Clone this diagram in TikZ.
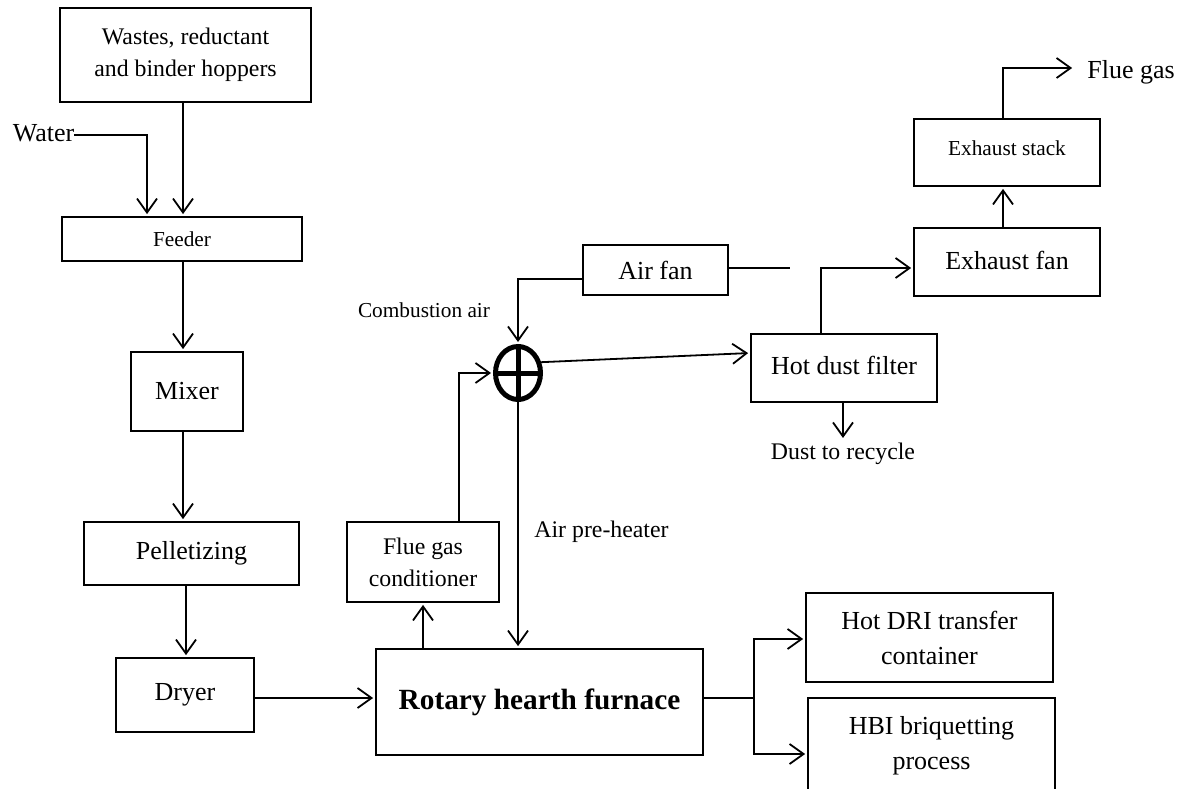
\documentclass[tikz,border=0pt]{standalone}
\usepackage{fontspec}
\setmainfont{Liberation Serif}
\usetikzlibrary{arrows.meta,shapes.geometric}
\newcommand\fbig{\fontsize{26}{35}\selectfont}
\newcommand\fmid{\fontsize{23.8}{32}\selectfont}
\newcommand\fsmall{\fontsize{21.3}{28}\selectfont}
\newcommand\fbold{\fontsize{29.3}{36}\selectfont\bfseries}
\begin{document}
\begin{tikzpicture}[x=1pt,y=-1pt,
  box/.style={draw,line width=1.8pt,inner sep=0pt,align=center,fill=white},
  lbl/.style={inner sep=0pt,align=center},
  ln/.style={line width=1.8pt},
  arr/.style={line width=1.8pt,-{Straight Barb[length=14pt,width=20pt]},shorten >=2pt}]
\useasboundingbox (0,0) rectangle (1184,789);
\clip (0,0) rectangle (1184,789);
% boxes
\node[box,minimum width=251pt,minimum height=94pt,font=\fmid] (hop) at (185.5,55) {Wastes, reductant\\and binder hoppers};
\node[box,minimum width=240pt,minimum height=44pt,font=\fsmall] (feed) at (182,239) {Feeder};
\node[box,minimum width=112pt,minimum height=79pt,font=\fbig] (mixer) at (187,391.5) {Mixer};
\node[box,minimum width=215pt,minimum height=63pt,font=\fbig] (pel) at (191.5,553.5) {Pelletizing};
\node[box,minimum width=138pt,minimum height=74pt,font=\fbig] (dryer) at (185,695) {Dryer};
\node[box,minimum width=327pt,minimum height=106pt,font=\fbold] (furn) at (539.5,702) {\raisebox{5pt}{Rotary hearth furnace}};
\node[box,minimum width=152pt,minimum height=80pt,font=\fmid] (fgc) at (423,562) {Flue gas\\conditioner};
\node[box,minimum width=145pt,minimum height=50pt,font=\fbig] (fan) at (655.5,270) {Air fan};
\node[box,minimum width=186pt,minimum height=68pt,font=\fbig] (hdf) at (844,368) {\raisebox{5pt}{Hot dust filter}};
\node[box,minimum width=186pt,minimum height=68pt,font=\fbig] (exfan) at (1007,262) {\raisebox{4pt}{Exhaust fan}};
\node[box,minimum width=186pt,minimum height=67pt,font=\fsmall] (stack) at (1007,152.5) {\raisebox{9pt}{Exhaust stack}};
\node[box,minimum width=247pt,minimum height=89pt,font=\fbig] (dri) at (929.5,637.5) {Hot DRI transfer\\container};
\node[box,minimum width=247pt,minimum height=95pt,font=\fbig] (hbi) at (931.5,745.5) {HBI briquetting\\process};
% mixing point
\node[draw,ellipse,line width=5pt,minimum width=45pt,minimum height=53pt,inner sep=0pt] (mix) at (518,373) {};
\draw[line width=5pt] (mix.north) -- (mix.south) (mix.west) -- (mix.east);
% labels
\node[lbl,font=\fbig] (water) at (43.5,133) {Water};
\node[lbl,font=\fsmall] (comb) at (424,310) {Combustion air};
\node[lbl,font=\fmid] (airpre) at (601.5,532) {Air pre-heater};
\node[lbl,font=\fmid] (dust) at (843,454) {Dust to recycle};
\node[lbl,font=\fbig] (flue) at (1131,72) {Flue gas};
\coordinate (fanend) at (790,268);
\coordinate (split) at (754,698);
% connectors
\draw[arr] (183,0 |- hop.south) -- (183,0 |- feed.north);
\draw[arr] (water.east |- 0,135) -- (147,135) -- (147,0 |- feed.north);
\draw[arr] (183,0 |- feed.south) -- (183,0 |- mixer.north);
\draw[arr] (183,0 |- mixer.south) -- (183,0 |- pel.north);
\draw[arr] (186,0 |- pel.south) -- (186,0 |- dryer.north);
\draw[arr] (dryer.east |- split) -- (furn.west |- split);
\draw[arr] (423,0 |- furn.north) -- (423,0 |- fgc.south);
\draw[arr] (459,0 |- fgc.north) -- (459,0 |- mix.west) -- (mix.west);
\draw[arr] (mix.south) -- (mix.south |- furn.north);
\draw[arr] ([yshift=-9pt]fan.west) -- (mix.north |- 0,279) -- (mix.north);
\draw[ln] (fan.east |- fanend) -- (fanend);
\draw[arr] (mix.25) -- ([yshift=15pt]hdf.west);
\draw[arr] (821,0 |- hdf.north) -- (821,268) -- ([yshift=-6pt]exfan.west);
\draw[arr] (843,0 |- hdf.south) -- (843,0 |- dust.north) [shorten >=5pt];
\draw[arr] (1003,0 |- exfan.north) -- (1003,0 |- stack.south);
\draw[arr] (1003,0 |- stack.north) -- (1003,68) -- (flue.west |- 1003,68) [shorten >=15pt];
\draw[ln] (furn.east |- split) -- (split);
\draw[arr] (split) -- (754,639) -- (dri.west |- 754,639);
\draw[arr] (split) -- (754,754) -- (hbi.west |- 754,754);
\end{tikzpicture}
\end{document}
